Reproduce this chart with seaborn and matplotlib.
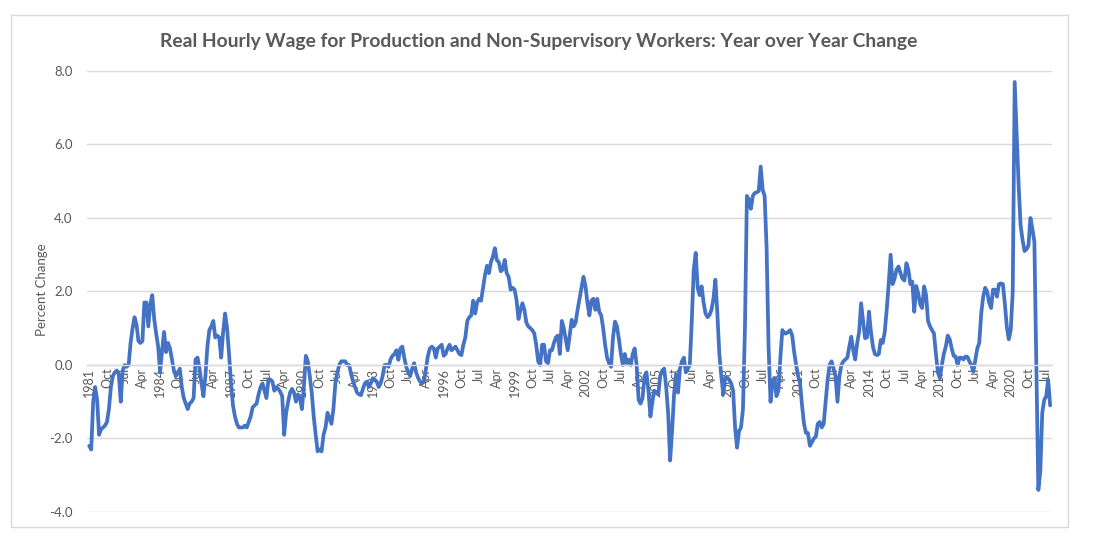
import numpy as np
import pandas as pd
import matplotlib
matplotlib.use("Agg")
import matplotlib.pyplot as plt
from matplotlib.patches import Rectangle
import seaborn as sns

# Monthly year-over-year % change, Jan 1981 - Sep 2021
y1981 = [-2.2, -2.3, -1.0, -0.6, -0.95, -1.9, -1.75, -1.7, -1.65, -1.55, -1.2, -0.6]
y1982 = [-0.3, -0.2, -0.15, -0.25, -1.0, -0.15, 0.0, -0.05, 0.0, 0.6, 1.0, 1.3]
y1983 = [1.1, 0.65, 0.6, 0.65, 1.7, 1.7, 1.05, 1.65, 1.9, 1.25, 0.85, 0.5]
y1984 = [-0.2, 0.4, 0.9, 0.35, 0.6, 0.45, 0.15, -0.15, -0.3, -0.2, -0.1, -0.6]
y1985 = [-0.9, -1.05, -1.2, -1.05, -1.0, -0.9, 0.15, 0.2, -0.1, -0.5, -0.85, -0.3]
y1986 = [0.5, 0.95, 1.05, 1.2, 0.75, 0.8, 0.75, 0.2, 0.9, 1.4, 1.0, 0.3]
y1987 = [-0.5, -1.1, -1.4, -1.6, -1.7, -1.7, -1.7, -1.65, -1.7, -1.55, -1.4, -1.15]
y1988 = [-1.1, -1.05, -0.8, -0.6, -0.5, -0.7, -0.9, -0.4, -0.4, -0.45, -0.7, -0.6]
y1989 = [-0.65, -0.73, -0.85, -1.9, -1.3, -1.0, -0.75, -0.65, -0.75, -1.0, -0.8, -0.9]
y1990 = [-1.2, -0.6, 0.25, 0.1, -0.3, -0.75, -1.4, -1.9, -2.35, -2.3, -2.35, -1.9]
y1991 = [-1.7, -1.3, -1.45, -1.6, -1.2, -0.5, -0.2, 0.0, 0.1, 0.1, 0.1, 0.0]
y1992 = [0.0, -0.25, -0.45, -0.6, -0.75, -0.8, -0.82, -0.65, -0.5, -0.45, -0.6, -0.5]
y1993 = [-0.36, -0.4, -0.45, -0.6, -0.5, -0.3, 0.0, 0.0, -0.05, 0.15, 0.25, 0.3]
y1994 = [0.4, 0.14, 0.45, 0.5, 0.2, -0.05, -0.2, -0.3, -0.1, 0.05, -0.2, -0.35]
y1995 = [-0.45, -0.5, -0.45, -0.1, 0.25, 0.45, 0.5, 0.45, 0.2, 0.45, 0.5, 0.55]
y1996 = [0.25, 0.3, 0.45, 0.55, 0.4, 0.45, 0.5, 0.4, 0.3, 0.27, 0.55, 0.75]
y1997 = [1.2, 1.3, 1.35, 1.75, 1.4, 1.7, 1.8, 1.75, 2.1, 2.45, 2.7, 2.5]
y1998 = [2.8, 2.95, 3.18, 2.85, 2.8, 2.55, 2.6, 2.86, 2.5, 2.4, 2.05, 2.1]
y1999 = [2.05, 1.77, 1.25, 1.5, 1.68, 1.5, 1.15, 1.05, 1.0, 0.95, 0.86, 0.55]
y2000 = [0.1, 0.0, 0.55, 0.55, 0.1, 0.05, 0.4, 0.4, 0.6, 0.75, 0.8, 0.3]
y2001 = [1.2, 1.0, 0.7, 0.4, 0.8, 1.23, 1.05, 1.15, 1.5, 1.8, 2.1, 2.4]
y2002 = [2.15, 1.7, 1.35, 1.75, 1.8, 1.5, 1.8, 1.45, 1.35, 1.0, 0.55, 0.2]
y2003 = [0.05, -0.05, 0.75, 1.18, 1.05, 0.7, 0.3, 0.0, 0.3, 0.05, 0.14, 0.0]
y2004 = [0.3, 0.45, 0.0, -0.95, -1.05, -0.9, -0.3, -0.2, -0.7, -1.4, -1.0, -0.7]
y2005 = [-0.75, -0.8, -0.3, -0.15, -0.1, -0.6, -1.3, -2.6, -1.8, -0.8, -0.25, -0.75]
y2006 = [-0.1, 0.1, 0.2, -0.2, -0.1, 0.0, 1.2, 2.6, 3.05, 2.1, 1.9, 2.14]
y2007 = [1.7, 1.4, 1.3, 1.36, 1.5, 1.8, 2.32, 1.4, 0.3, -0.3, -0.8, -0.35]
y2008 = [-0.35, -0.4, -0.5, -0.7, -1.7, -2.25, -1.8, -1.7, -1.2, 1.0, 4.6, 4.5]
y2009 = [4.25, 4.6, 4.68, 4.7, 4.73, 5.4, 4.77, 4.6, 3.2, 0.5, -1.0, -0.45]
y2010 = [-0.35, -0.85, -0.7, 0.2, 0.95, 0.86, 0.86, 0.9, 0.95, 0.8, 0.35, 0.0]
y2011 = [-0.3, -0.5, -1.1, -1.6, -1.85, -1.85, -2.2, -2.1, -2.0, -1.95, -1.6, -1.55]
y2012 = [-1.7, -1.6, -1.0, -0.4, 0.0, 0.1, -0.1, -0.3, -1.0, -0.3, 0.0, 0.1]
y2013 = [0.15, 0.2, 0.5, 0.77, 0.4, 0.15, 0.6, 0.9, 1.68, 1.2, 0.73, 0.75]
y2014 = [1.45, 0.9, 0.5, 0.3, 0.27, 0.3, 0.68, 0.6, 0.9, 1.5, 2.2, 3.0]
y2015 = [2.2, 2.35, 2.6, 2.68, 2.5, 2.35, 2.3, 2.77, 2.6, 2.2, 2.27, 1.45]
y2016 = [2.15, 1.95, 1.65, 1.55, 2.14, 1.9, 1.2, 1.05, 0.95, 0.86, 0.3, -0.2]
y2017 = [-0.36, 0.0, 0.3, 0.5, 0.8, 0.7, 0.45, 0.25, 0.23, 0.0, 0.2, 0.2]
y2018 = [0.15, 0.23, 0.22, 0.1, 0.0, -0.18, 0.14, 0.45, 0.6, 1.4, 1.86, 2.1]
y2019 = [2.0, 1.7, 1.55, 2.05, 2.05, 1.86, 2.2, 2.22, 2.2, 1.67, 1.04, 0.7]
y2020 = [0.95, 2.0, 7.7, 6.3, 4.9, 3.8, 3.4, 3.1, 3.15, 3.25, 4.0, 3.7]
y2021 = [3.35, 0.0, -3.4, -2.9, -1.3, -0.95, -0.85, -0.4, -1.1]

years = [y1981, y1982, y1983, y1984, y1985, y1986, y1987, y1988, y1989, y1990,
         y1991, y1992, y1993, y1994, y1995, y1996, y1997, y1998, y1999, y2000,
         y2001, y2002, y2003, y2004, y2005, y2006, y2007, y2008, y2009, y2010,
         y2011, y2012, y2013, y2014, y2015, y2016, y2017, y2018, y2019, y2020,
         y2021]
values = np.concatenate([np.array(y, dtype=float) for y in years])
dates = pd.date_range("1981-01-01", periods=len(values), freq="MS")
df = pd.DataFrame({"t": np.arange(len(values)), "pct": values})

title = "Real Hourly Wage for Production and Non-Supervisory Workers: Year over Year Change"
y_label = "Percent Change"
y_ticks = [-4.0, -2.0, 0.0, 2.0, 4.0, 6.0, 8.0]

sns.set_theme(style="white")
plt.rcParams["font.family"] = ["Lato", "DejaVu Sans"]
plt.rcParams["axes.unicode_minus"] = False

TXT = "#595959"
GRID = "#D9D9D9"

fig = plt.figure(figsize=(11, 5.47), dpi=100)
fig.patch.set_facecolor("white")
ax = fig.add_axes([0.0788, 0.064, 0.8773, 0.8062])

sns.lineplot(data=df, x="t", y="pct", ax=ax, color="#4472C4", linewidth=2.7,
             solid_joinstyle="round", solid_capstyle="round")

ax.set_xlim(-1.3, 488.8)
ax.set_ylim(-4, 8)
ax.set_yticks(y_ticks)
ax.set_yticklabels([f"{v:.1f}" for v in y_ticks])
ax.grid(axis="y", color=GRID, linewidth=1)
ax.grid(axis="x", visible=False)
ax.set_axisbelow(True)

tick_pos = list(range(0, len(values), 9))
tick_lab = [str(dates[i].year) if dates[i].month == 1 else dates[i].strftime("%b")
            for i in tick_pos]
ax.set_xticks(tick_pos)
ax.set_xticklabels(tick_lab)

for s in ["left", "right", "top"]:
    ax.spines[s].set_visible(False)
ax.spines["bottom"].set_position(("data", 0))
ax.spines["bottom"].set_color(GRID)
ax.spines["bottom"].set_linewidth(1)

ax.tick_params(axis="x", length=0, pad=2, labelsize=9, labelcolor=TXT, labelrotation=90)
ax.tick_params(axis="y", length=0, pad=10, labelsize=9.5, labelcolor=TXT)
ax.set_xlabel("")
ax.set_ylabel("")

fig.text(539 / 1100, 1 - 41 / 547, title, ha="center", va="center",
         fontsize=13.9, fontweight="bold", color=TXT)
fig.text(42 / 1100, 1 - 290 / 547, y_label, ha="center", va="center",
         rotation=90, fontsize=9.5, color=TXT)

fig.add_artist(Rectangle((11 / 1100, 20 / 547), 1057 / 1100, 512 / 547,
                         transform=fig.transFigure, fill=False,
                         edgecolor=GRID, linewidth=1))

fig.savefig("out.png", dpi=100, facecolor="white")
